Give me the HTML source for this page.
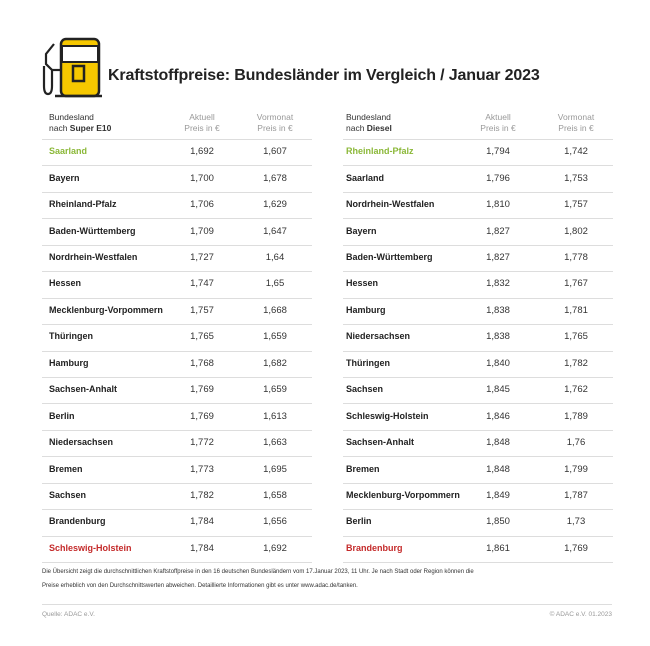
<!DOCTYPE html>
<html><head><meta charset="utf-8"><style>
body{margin:0;width:650px;height:646px;background:#fff;font-family:"Liberation Sans",sans-serif;position:relative;overflow:hidden;color:#222}
.a{position:absolute;white-space:nowrap}
.t{font-weight:bold;font-size:16px;left:108px;top:67px;letter-spacing:-0.15px}
.h{font-size:8.5px;line-height:11px;color:#333}
.hg{font-size:8.5px;line-height:11px;color:#999;text-align:center;width:70px}
.line{position:absolute;height:1px;background:#ddd}
.n{font-size:9px;font-weight:bold;color:#222}
.v{font-size:9.5px;color:#333;text-align:center;width:60px}
.g{color:#8bb838}.r{color:#c42a2a}
.f{font-size:6px;color:#333}
.q{font-size:6.5px;color:#999}
</style></head><body>
<svg class="a" style="left:38px;top:36px" width="66" height="64" viewBox="0 0 66 64">
<rect x="23" y="3" width="38" height="57" rx="5" fill="#f6c800" stroke="#222" stroke-width="2.5"/>
<rect x="24" y="10" width="36" height="16" fill="#fff" stroke="#222" stroke-width="2"/>
<rect x="35" y="30" width="11" height="15" fill="none" stroke="#222" stroke-width="2.5"/>
<line x1="17" y1="60" x2="64" y2="60" stroke="#222" stroke-width="2.5"/>
<path d="M16 8 L8 18 L8 28 L14 34 L14 50 Q14 58 10 58 Q6 58 6 50 L6 30" fill="none" stroke="#222" stroke-width="2.2"/>
<path d="M14 34 L23 34" fill="none" stroke="#222" stroke-width="2.2"/>
</svg>
<div class="a t">Kraftstoffpreise: Bundesländer im Vergleich / Januar 2023</div>

<div class="a h" style="left:49px;top:112px">Bundesland<br>nach <b>Super E10</b></div>
<div class="a hg" style="left:167px;top:112px">Aktuell<br>Preis in €</div>
<div class="a hg" style="left:240px;top:112px">Vormonat<br>Preis in €</div>
<div class="a h" style="left:346px;top:112px">Bundesland<br>nach <b>Diesel</b></div>
<div class="a hg" style="left:463px;top:112px">Aktuell<br>Preis in €</div>
<div class="a hg" style="left:541px;top:112px">Vormonat<br>Preis in €</div>

<div id="rows"></div>

<div class="a f" style="left:42px;top:569px">Die Übersicht zeigt die durchschnittlichen Kraftstoffpreise in den 16 deutschen Bundesländern vom 17.Januar 2023, 11 Uhr. Je nach Stadt oder Region können die</div>
<div class="a f" style="left:42px;top:583px">Preise erheblich von den Durchschnittswerten abweichen. Detaillierte Informationen gibt es unter www.adac.de/tanken.</div>
<div class="line" style="left:42px;width:570px;top:604px"></div>
<div class="a q" style="left:42px;top:611px">Quelle: ADAC e.V.</div>
<div class="a q" style="right:38px;top:611px">© ADAC e.V. 01.2023</div>

<script>
var L=[["Saarland","1,692","1,607","g"],["Bayern","1,700","1,678"],["Rheinland-Pfalz","1,706","1,629"],["Baden-Württemberg","1,709","1,647"],["Nordrhein-Westfalen","1,727","1,64"],["Hessen","1,747","1,65"],["Mecklenburg-Vorpommern","1,757","1,668"],["Thüringen","1,765","1,659"],["Hamburg","1,768","1,682"],["Sachsen-Anhalt","1,769","1,659"],["Berlin","1,769","1,613"],["Niedersachsen","1,772","1,663"],["Bremen","1,773","1,695"],["Sachsen","1,782","1,658"],["Brandenburg","1,784","1,656"],["Schleswig-Holstein","1,784","1,692","r"]];
var R=[["Rheinland-Pfalz","1,794","1,742","g"],["Saarland","1,796","1,753"],["Nordrhein-Westfalen","1,810","1,757"],["Bayern","1,827","1,802"],["Baden-Württemberg","1,827","1,778"],["Hessen","1,832","1,767"],["Hamburg","1,838","1,781"],["Niedersachsen","1,838","1,765"],["Thüringen","1,840","1,782"],["Sachsen","1,845","1,762"],["Schleswig-Holstein","1,846","1,789"],["Sachsen-Anhalt","1,848","1,76"],["Bremen","1,848","1,799"],["Mecklenburg-Vorpommern","1,849","1,787"],["Berlin","1,850","1,73"],["Brandenburg","1,861","1,769","r"]];
var h="",rh=26.44;
function tb(d,x0,w,nx,c1,c2){h+='<div class="line" style="left:'+x0+'px;width:'+w+'px;top:139px"></div>';
d.forEach(function(r,i){var y=139+i*rh;var cy=y+rh/2-6;
h+='<div class="a n '+(r[3]||'')+'" style="left:'+nx+'px;top:'+cy+'px">'+r[0]+'</div>';
h+='<div class="a v" style="left:'+(c1-30)+'px;top:'+cy+'px">'+r[1]+'</div>';
h+='<div class="a v" style="left:'+(c2-30)+'px;top:'+cy+'px">'+r[2]+'</div>';
h+='<div class="line" style="left:'+x0+'px;width:'+w+'px;top:'+Math.round(y+rh)+'px"></div>';});}
tb(L,42,270,49,202,275);tb(R,343,270,346,498,576);
document.getElementById("rows").innerHTML=h;
</script>
</body></html>
